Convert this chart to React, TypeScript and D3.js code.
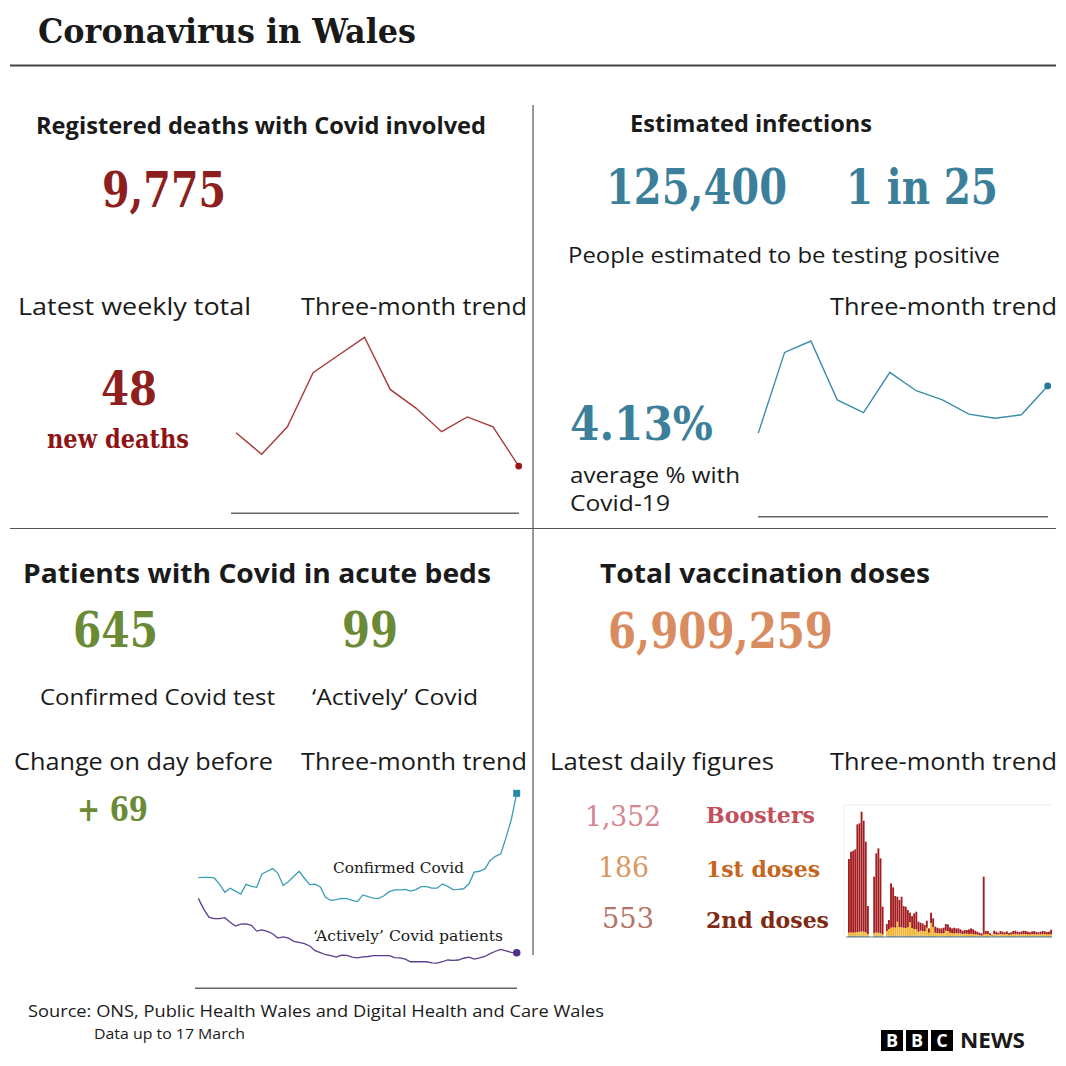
import React from "react";
import * as d3 from "d3";

// ---------- DATA ----------
const deathsTrend = [82, 60, 88, 143, 161, 179, 126, 107, 83, 98, 88, 48];
const infectionsTrend = [2.64, 5.19, 5.55, 3.69, 3.29, 4.56, 3.98, 3.69, 3.24, 3.11, 3.22, 4.13];
const confirmedPatients = [
  356, 357, 357, 355, 334, 306, 320, 310, 300, 333, 326, 323, 369, 378, 387, 371,
  329, 343, 361, 378, 354, 332, 334, 324, 288, 278, 281, 285, 284, 278, 274, 297,
  291, 286, 285, 294, 308, 314, 314, 316, 310, 315, 325, 325, 320, 320, 334, 326,
  315, 316, 318, 335, 375, 378, 386, 415, 429, 438, 494, 557, 645,
];
const activePatients = [
  285, 249, 221, 216, 216, 219, 203, 190, 197, 198, 193, 173, 177, 172, 164, 149,
  153, 149, 138, 134, 130, 122, 106, 99, 92, 89, 84, 91, 90, 84, 81, 85,
  86, 89, 89, 89, 89, 82, 81, 77, 68, 68, 68, 68, 64, 63, 68, 74,
  73, 74, 80, 84, 77, 81, 86, 96, 104, 110, 105, 100, 99,
];
const boosters = [
  22100, 24200, 24600, 24900, 32300, 32500, 35900, 33300, 27200, 8400, 0, 0,
  16900, 23700, 25300, 22400, 8300, 0, 2100, 2700, 13300, 12000, 9500, 7500,
  8100, 9200, 6500, 6400, 5100, 2900, 3600, 4700, 5300, 3000, 2400, 2300,
  1900, 2100, 1300, 3100, 2600, 1800, 1600, 1400, 1500, 1600, 2000, 2000,
  1600, 1400, 1700, 1400, 1500, 1200, 1000, 1100, 1100, 1400, 1600, 1400,
  1100, 900, 700, 700, 17300, 900, 900, 500, 200, 1000, 800, 500,
  900, 800, 600, 800, 500, 600, 900, 1000, 800, 700, 800, 1000,
  900, 800, 600, 800, 900, 700, 600, 800, 900, 800, 700, 800, 1352,
];
const secondDoses = [
  900, 1000, 900, 1000, 1100, 1200, 1300, 1200, 1000, 600, 0, 0,
  800, 1000, 900, 800, 500, 0, 1500, 2000, 2400, 2500, 2400, 4200,
  2600, 2500, 2400, 2300, 2600, 4000, 2300, 2000, 1900, 1200, 1500, 1400,
  1300, 2400, 1000, 3800, 2600, 1000, 900, 900, 800, 900, 1500, 1400,
  1000, 900, 800, 900, 800, 700, 600, 700, 700, 600, 700, 600,
  500, 400, 300, 200, 500, 600, 600, 400, 300, 600, 500, 500,
  600, 500, 500, 600, 400, 500, 600, 600, 500, 500, 600, 600,
  600, 500, 500, 600, 600, 500, 500, 500, 600, 600, 500, 500, 553,
];
const firstDoses = [
  300, 300, 300, 300, 300, 300, 300, 300, 300, 200, 0, 0,
  300, 300, 300, 300, 200, 0, 200, 300, 300, 300, 300, 300,
  300, 300, 300, 300, 300, 300, 300, 300, 300, 300, 300, 300,
  300, 300, 200, 300, 300, 200, 200, 200, 200, 200, 300, 300,
  200, 200, 200, 200, 200, 300, 200, 200, 200, 200, 200, 200,
  200, 200, 200, 100, 200, 200, 200, 100, 100, 200, 200, 200,
  200, 200, 200, 200, 200, 200, 200, 200, 200, 200, 200, 200,
  200, 200, 200, 200, 200, 200, 200, 200, 200, 200, 200, 200, 186,
];
const doseSeries = ["firstDoses", "secondDoses", "boosters"];
const doseColors = ["#1f7f8f", "#f2b530", "#a31c1f"];

// ---------- STYLE ----------
const SANS = "'Open Sans', 'Noto Sans', sans-serif";
const SERIF = "'DejaVu Serif', serif";

type TP = {
  x: number; y: number; w?: number; size: number; fill?: string;
  weight?: number | string; family?: string; children: React.ReactNode;
};
const T = ({ x, y, w, size, fill = "#1a1a1a", weight = 400, family = SANS, children }: TP) => (
  <text
    x={x}
    y={y}
    fontSize={size}
    fill={fill}
    fontWeight={weight}
    fontFamily={family}
    textLength={w}
    lengthAdjust={w ? "spacingAndGlyphs" : undefined}
  >
    {children}
  </text>
);

export default function App() {
  // deaths trend
  const dx = d3.scaleLinear().domain([0, deathsTrend.length - 1]).range([236, 518.7]);
  const dy = d3.scaleLinear().domain([0, d3.max(deathsTrend)!]).range([513.3, 337.3]);
  const dLine = d3.line<number>().x((_, i) => dx(i)).y((d) => dy(d));

  // infections trend
  const ix = d3.scaleLinear().domain([0, infectionsTrend.length - 1]).range([758.3, 1047.7]);
  const iy = d3.scaleLinear().domain([0, d3.max(infectionsTrend)!]).range([516.7, 341]);
  const iLine = d3.line<number>().x((_, i) => ix(i)).y((d) => iy(d));

  // patients trend
  const px = d3.scaleLinear().domain([0, confirmedPatients.length - 1]).range([198.3, 516.7]);
  const py = d3.scaleLinear().domain([0, 645]).range([981.6, 793.3]);
  const pLine = d3.line<number>().x((_, i) => px(i)).y((d) => py(d));

  // vaccination bars
  const rows = boosters.map((b, i) => ({
    i,
    boosters: b,
    secondDoses: secondDoses[i],
    firstDoses: firstDoses[i],
  }));
  const stack = d3.stack<any>().keys(doseSeries)(rows);
  const vx = d3.scaleBand<number>().domain(rows.map((r) => r.i)).range([848, 1052]).paddingInner(0.12);
  const vy = d3.scaleLinear().domain([0, 37500]).range([936.7, 811.7]);

  const lastD = deathsTrend.length - 1;
  const lastI = infectionsTrend.length - 1;
  const lastP = confirmedPatients.length - 1;

  return (
    <svg
      width={1066}
      height={1066}
      viewBox="0 0 1066 1066"
      style={{ position: "absolute", left: 0, top: 0, background: "#fff" }}
    >
      <rect width={1066} height={1066} fill="#fff" />
      {/* Title */}
      <T x={38} y={43} size={34} weight={700} family={"'DejaVu Serif Condensed', 'DejaVu Serif', serif"} w={378}>
        Coronavirus in Wales
      </T>
      <line x1={10} x2={1056} y1={65.5} y2={65.5} stroke="#444" strokeWidth={2} />
      <line x1={533} x2={533} y1={105} y2={955} stroke="#555" strokeWidth={1.2} />
      <line x1={10} x2={1056} y1={528.5} y2={528.5} stroke="#555" strokeWidth={1.2} />

      {/* ---- Deaths panel ---- */}
      <T x={36} y={134} size={22.5} weight={700} w={450}>Registered deaths with Covid involved</T>
      <T x={102} y={207} size={49} weight={700} family={SERIF} fill="#8e1f1f" w={124}>9,775</T>
      <T x={18} y={315} size={23.5} w={233}>Latest weekly total</T>
      <T x={301} y={315} size={23.5} w={226}>Three-month trend</T>
      <T x={101} y={405} size={46} weight={700} family={SERIF} fill="#8e1f1f" w={56}>48</T>
      <T x={47} y={448} size={26} weight={700} family={SERIF} fill="#8e1414" w={142}>new deaths</T>
      <path d={dLine(deathsTrend)!} fill="none" stroke="#a83a3c" strokeWidth={1.4} />
      <circle cx={dx(lastD)} cy={dy(deathsTrend[lastD])} r={3.4} fill="#9a1414" />
      <line x1={231} x2={519} y1={513.3} y2={513.3} stroke="#666" strokeWidth={1.5} />

      {/* ---- Infections panel ---- */}
      <T x={630} y={132} size={22.5} weight={700} w={242}>Estimated infections</T>
      <T x={606} y={204} size={48} weight={700} family={SERIF} fill="#3c7f9b" w={181}>125,400</T>
      <T x={846} y={204} size={48} weight={700} family={SERIF} fill="#3c7f9b" w={152}>1 in 25</T>
      <T x={568} y={263} size={22.5} w={432}>People estimated to be testing positive</T>
      <T x={830} y={315} size={23.5} w={227}>Three-month trend</T>
      <T x={570} y={440} size={46} weight={700} family={SERIF} fill="#3c7f9b" w={143}>4.13%</T>
      <T x={570} y={483} size={22.5} w={170}>average % with</T>
      <T x={570} y={511} size={22.5} w={100}>Covid-19</T>
      <path d={iLine(infectionsTrend)!} fill="none" stroke="#3b8caa" strokeWidth={1.4} />
      <circle cx={ix(lastI)} cy={iy(infectionsTrend[lastI])} r={3.4} fill="#26789a" />
      <line x1={758} x2={1048} y1={516.7} y2={516.7} stroke="#666" strokeWidth={1.5} />

      {/* ---- Patients panel ---- */}
      <T x={23} y={583} size={27} weight={700} w={468}>Patients with Covid in acute beds</T>
      <T x={73} y={647} size={48} weight={700} family={SERIF} fill="#6a8a35" w={85}>645</T>
      <T x={342} y={647} size={48} weight={700} family={SERIF} fill="#6a8a35" w={56}>99</T>
      <T x={40} y={705} size={22.5} w={235}>Confirmed Covid test</T>
      <T x={312} y={705} size={22.5} w={166}>‘Actively’ Covid</T>
      <T x={14} y={770} size={23.5} w={259}>Change on day before</T>
      <T x={301} y={770} size={23.5} w={226}>Three-month trend</T>
      <T x={77} y={821} size={33} weight={700} family={SERIF} fill="#6a8a35" w={71}>+ 69</T>
      <path d={pLine(confirmedPatients)!} fill="none" stroke="#3a9db5" strokeWidth={1.3} />
      <path d={pLine(activePatients)!} fill="none" stroke="#5a3f8e" strokeWidth={1.3} />
      <rect x={px(lastP) - 3.5} y={py(confirmedPatients[lastP]) - 3.5} width={7} height={7} fill="#2a8aa8" />
      <circle cx={px(lastP)} cy={py(activePatients[lastP])} r={3.8} fill="#4e3387" />
      <T x={333} y={873} size={15.5} family={SERIF} w={131}>Confirmed Covid</T>
      <T x={313} y={941} size={15.5} family={SERIF} w={190}>‘Actively’ Covid patients</T>
      <line x1={195} x2={517} y1={988.3} y2={988.3} stroke="#666" strokeWidth={1.5} />

      {/* ---- Vaccination panel ---- */}
      <T x={600} y={583} size={27} weight={700} w={330}>Total vaccination doses</T>
      <T x={608} y={648} size={48} weight={700} family={SERIF} fill="#d98c5f" w={225}>6,909,259</T>
      <T x={550} y={770} size={23.5} w={224}>Latest daily figures</T>
      <T x={830} y={770} size={23.5} w={227}>Three-month trend</T>
      <T x={585} y={826} size={28} family={SERIF} fill="#d4868f" w={76}>1,352</T>
      <T x={706} y={823} size={23} weight={700} family={SERIF} fill="#c24f5b" w={109}>Boosters</T>
      <T x={598} y={877} size={28} family={SERIF} fill="#d9975f" w={51}>186</T>
      <T x={706} y={877} size={23} weight={700} family={SERIF} fill="#c5661c" w={114}>1st doses</T>
      <T x={602} y={928} size={28} family={SERIF} fill="#b77466" w={52}>553</T>
      <T x={706} y={928} size={23} weight={700} family={SERIF} fill="#7f2a12" w={123}>2nd doses</T>
      <line x1={844} x2={1052} y1={805} y2={805} stroke="#eeeeee" strokeWidth={1} />
      <line x1={844} x2={844} y1={805} y2={937} stroke="#eeeeee" strokeWidth={1} />
      {stack.map((s, k) => (
        <g key={k} fill={doseColors[k]}>
          {s.map((d: any, i: number) => (
            <rect
              key={i}
              x={vx(i)!}
              width={vx.bandwidth()}
              y={vy(d[1])}
              height={Math.max(0, vy(d[0]) - vy(d[1]))}
            />
          ))}
        </g>
      ))}
      <line x1={846} x2={1052} y1={937} y2={937} stroke="#777" strokeWidth={1} />

      {/* ---- Footer ---- */}
      <T x={28} y={1017} size={17} w={576}>Source: ONS, Public Health Wales and Digital Health and Care Wales</T>
      <T x={94} y={1039} size={15} w={151}>Data up to 17 March</T>
      {["B", "B", "C"].map((l, i) => (
        <g key={i}>
          <rect x={881 + i * 25} y={1030} width={22} height={21} fill="#000" />
          <text x={892 + i * 25} y={1047} fontSize={18} fontWeight={700} fill="#fff" textAnchor="middle" fontFamily={SANS}>
            {l}
          </text>
        </g>
      ))}
      <T x={960} y={1048} size={22} weight={700} w={65}>NEWS</T>
    </svg>
  );
}
